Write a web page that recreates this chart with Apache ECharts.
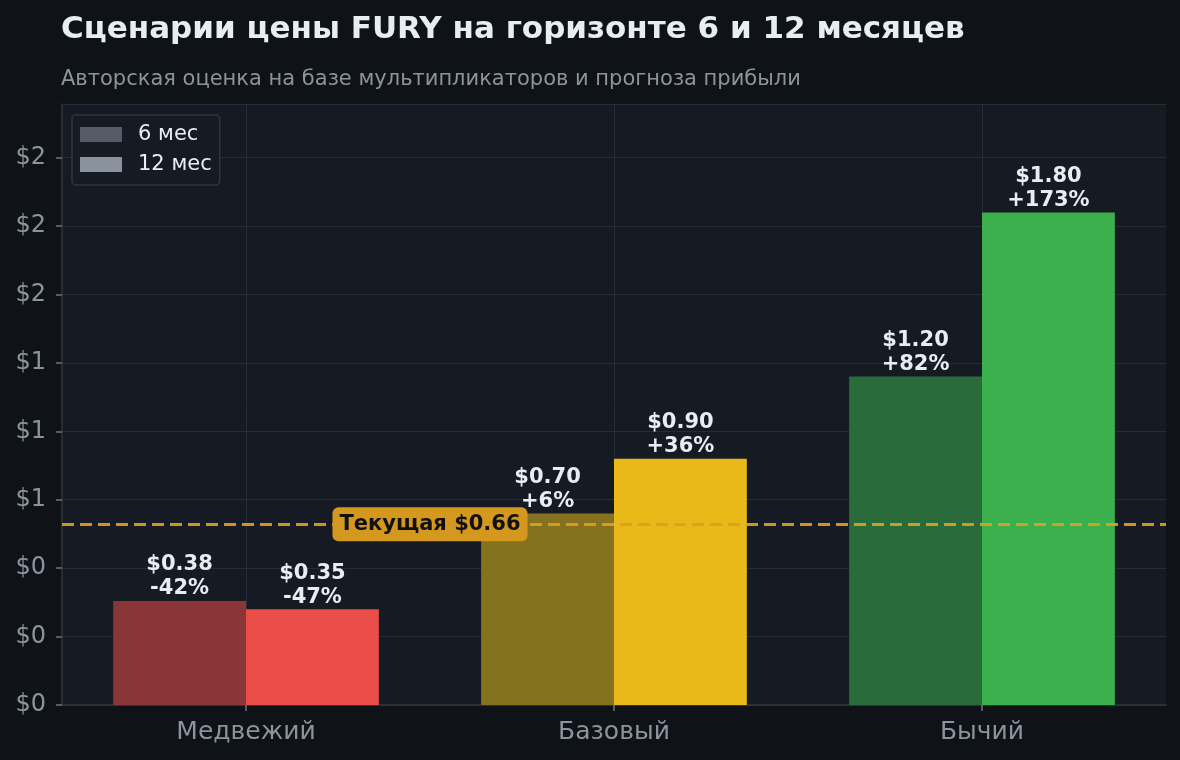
<!DOCTYPE html>
<html><head><meta charset="utf-8">
<script src="https://cdn.jsdelivr.net/npm/echarts@6/dist/echarts.min.js"></script>
<style>html,body{margin:0;padding:0;background:#0f1317;}#c{width:1180px;height:760px;}</style>
</head><body><div id="c"></div>
<script>
const categories = ['Медвежий', 'Базовый', 'Бычий'];
const values6 = [0.38, 0.70, 1.20];
const values12 = [0.35, 0.90, 1.80];
const currentPrice = 0.66;
const colors6 = ['#8a3538', '#85721e', '#2a6b3c'];
const colors12 = ['#eb4d48', '#e8b918', '#3db04e'];
const yTicks = [0, 0.25, 0.5, 0.75, 1.0, 1.25, 1.5, 1.75, 2.0];
const yTickLabels = ['$0', '$0', '$0', '$1', '$1', '$1', '$2', '$2', '$2'];
const seriesNames = ['6 мес', '12 мес'];

const FONT = 'DejaVu Sans';
function pct(v) {
  const p = Math.round((v / currentPrice - 1) * 100);
  return (p >= 0 ? '+' : '') + p + '%';
}
function valueLabel(p) {
  return '$' + p.value.toFixed(2) + '\n' + pct(p.value);
}
const labelStyle = {
  show: true, position: 'top', distance: 0,
  formatter: valueLabel, color: '#e6edf3', fontFamily: FONT,
  fontSize: 21, fontWeight: 'bold', lineHeight: 24
};

const chart = echarts.init(document.getElementById('c'));
chart.setOption({
  backgroundColor: '#0f1317',
  animation: false,
  title: [
    { text: 'Сценарии цены FURY на горизонте 6 и 12 месяцев', left: 61, top: 14, padding: 0,
      textStyle: { color: '#e6edf3', fontFamily: FONT, fontSize: 31, fontWeight: 'bold' } },
    { text: 'Авторская оценка на базе мультипликаторов и прогноза прибыли', left: 61, top: 69, padding: 0,
      textStyle: { color: '#8b949e', fontFamily: FONT, fontSize: 21, fontWeight: 'normal' } }
  ],
  legend: {
    data: seriesNames, orient: 'vertical', left: 72, top: 115,
    backgroundColor: '#161a22', borderColor: '#30363d', borderWidth: 1.5, borderRadius: 4,
    padding: [9, 8, 10, 8], itemWidth: 42, itemHeight: 15, itemGap: 9, icon: 'rect',
    textStyle: { color: '#e6edf3', fontFamily: FONT, fontSize: 21, padding: [0, 0, 0, 11] }
  },
  grid: { left: 62, right: 14, top: 104, bottom: 55, show: true, backgroundColor: '#161a22', borderWidth: 0, containLabel: false },
  xAxis: [
    { type: 'category', data: categories,
      axisLine: { show: true, lineStyle: { color: '#30363d', width: 1.5 } },
      axisTick: { show: true, alignWithLabel: true, length: 6, lineStyle: { color: '#6e7681', width: 1.5 } },
      axisLabel: { color: '#8b949e', fontFamily: FONT, fontSize: 25, margin: 15 },
      splitLine: { show: false } },
    { type: 'value', min: -0.5, max: 2.5, show: false }
  ],
  yAxis: {
    type: 'value', min: 0, max: 2.196, interval: 0.25,
    axisLine: { show: true, onZero: false, lineStyle: { color: '#30363d', width: 1.5 } },
    axisTick: { show: true, length: 6, lineStyle: { color: '#6e7681', width: 1.5 } },
    axisLabel: { color: '#8b949e', fontFamily: FONT, fontSize: 24, margin: 16, showMaxLabel: false,
      formatter: function (v) {
        const i = yTicks.findIndex(t => Math.abs(t - v) < 1e-9);
        return i >= 0 ? yTickLabels[i] : '';
      } },
    splitLine: { show: true, lineStyle: { color: '#262c36', width: 1 } }
  },
  series: [
    { type: 'line', data: [], z: 0, silent: true,
      markLine: { silent: true, symbol: 'none', z: 1, label: { show: false },
        lineStyle: { color: '#262c36', width: 1, type: 'solid' },
        data: categories.map(c => ({ xAxis: c })) } },
    { name: seriesNames[0], type: 'bar', barWidth: '36.1%', barGap: '0%',
      itemStyle: { color: '#555b66' },
      data: values6.map((v, i) => ({ value: v, itemStyle: { color: colors6[i] } })),
      label: labelStyle },
    { name: seriesNames[1], type: 'bar', barWidth: '36.1%', barGap: '0%',
      itemStyle: { color: '#8a929e' },
      data: values12.map((v, i) => ({ value: v, itemStyle: { color: colors12[i] } })),
      label: labelStyle,
      z: 3,
      markLine: { silent: true, symbol: 'none', z: 10, label: { show: false },
        lineStyle: { color: '#dea020', opacity: 0.92, width: 3, type: [12, 6] },
        data: [{ yAxis: currentPrice }] } },
    { type: 'scatter', xAxisIndex: 1, symbolSize: 0, z: 20, silent: true,
      itemStyle: { opacity: 1 },
      data: [[0.5, currentPrice]],
      label: { show: true, position: 'inside',
        formatter: 'Текущая $' + currentPrice.toFixed(2),
        color: '#111111', fontFamily: FONT, fontSize: 21, fontWeight: 'bold',
        backgroundColor: '#d4981f', borderRadius: 6, padding: [7, 7, 6, 7] } }
  ]
});
</script></body></html>
